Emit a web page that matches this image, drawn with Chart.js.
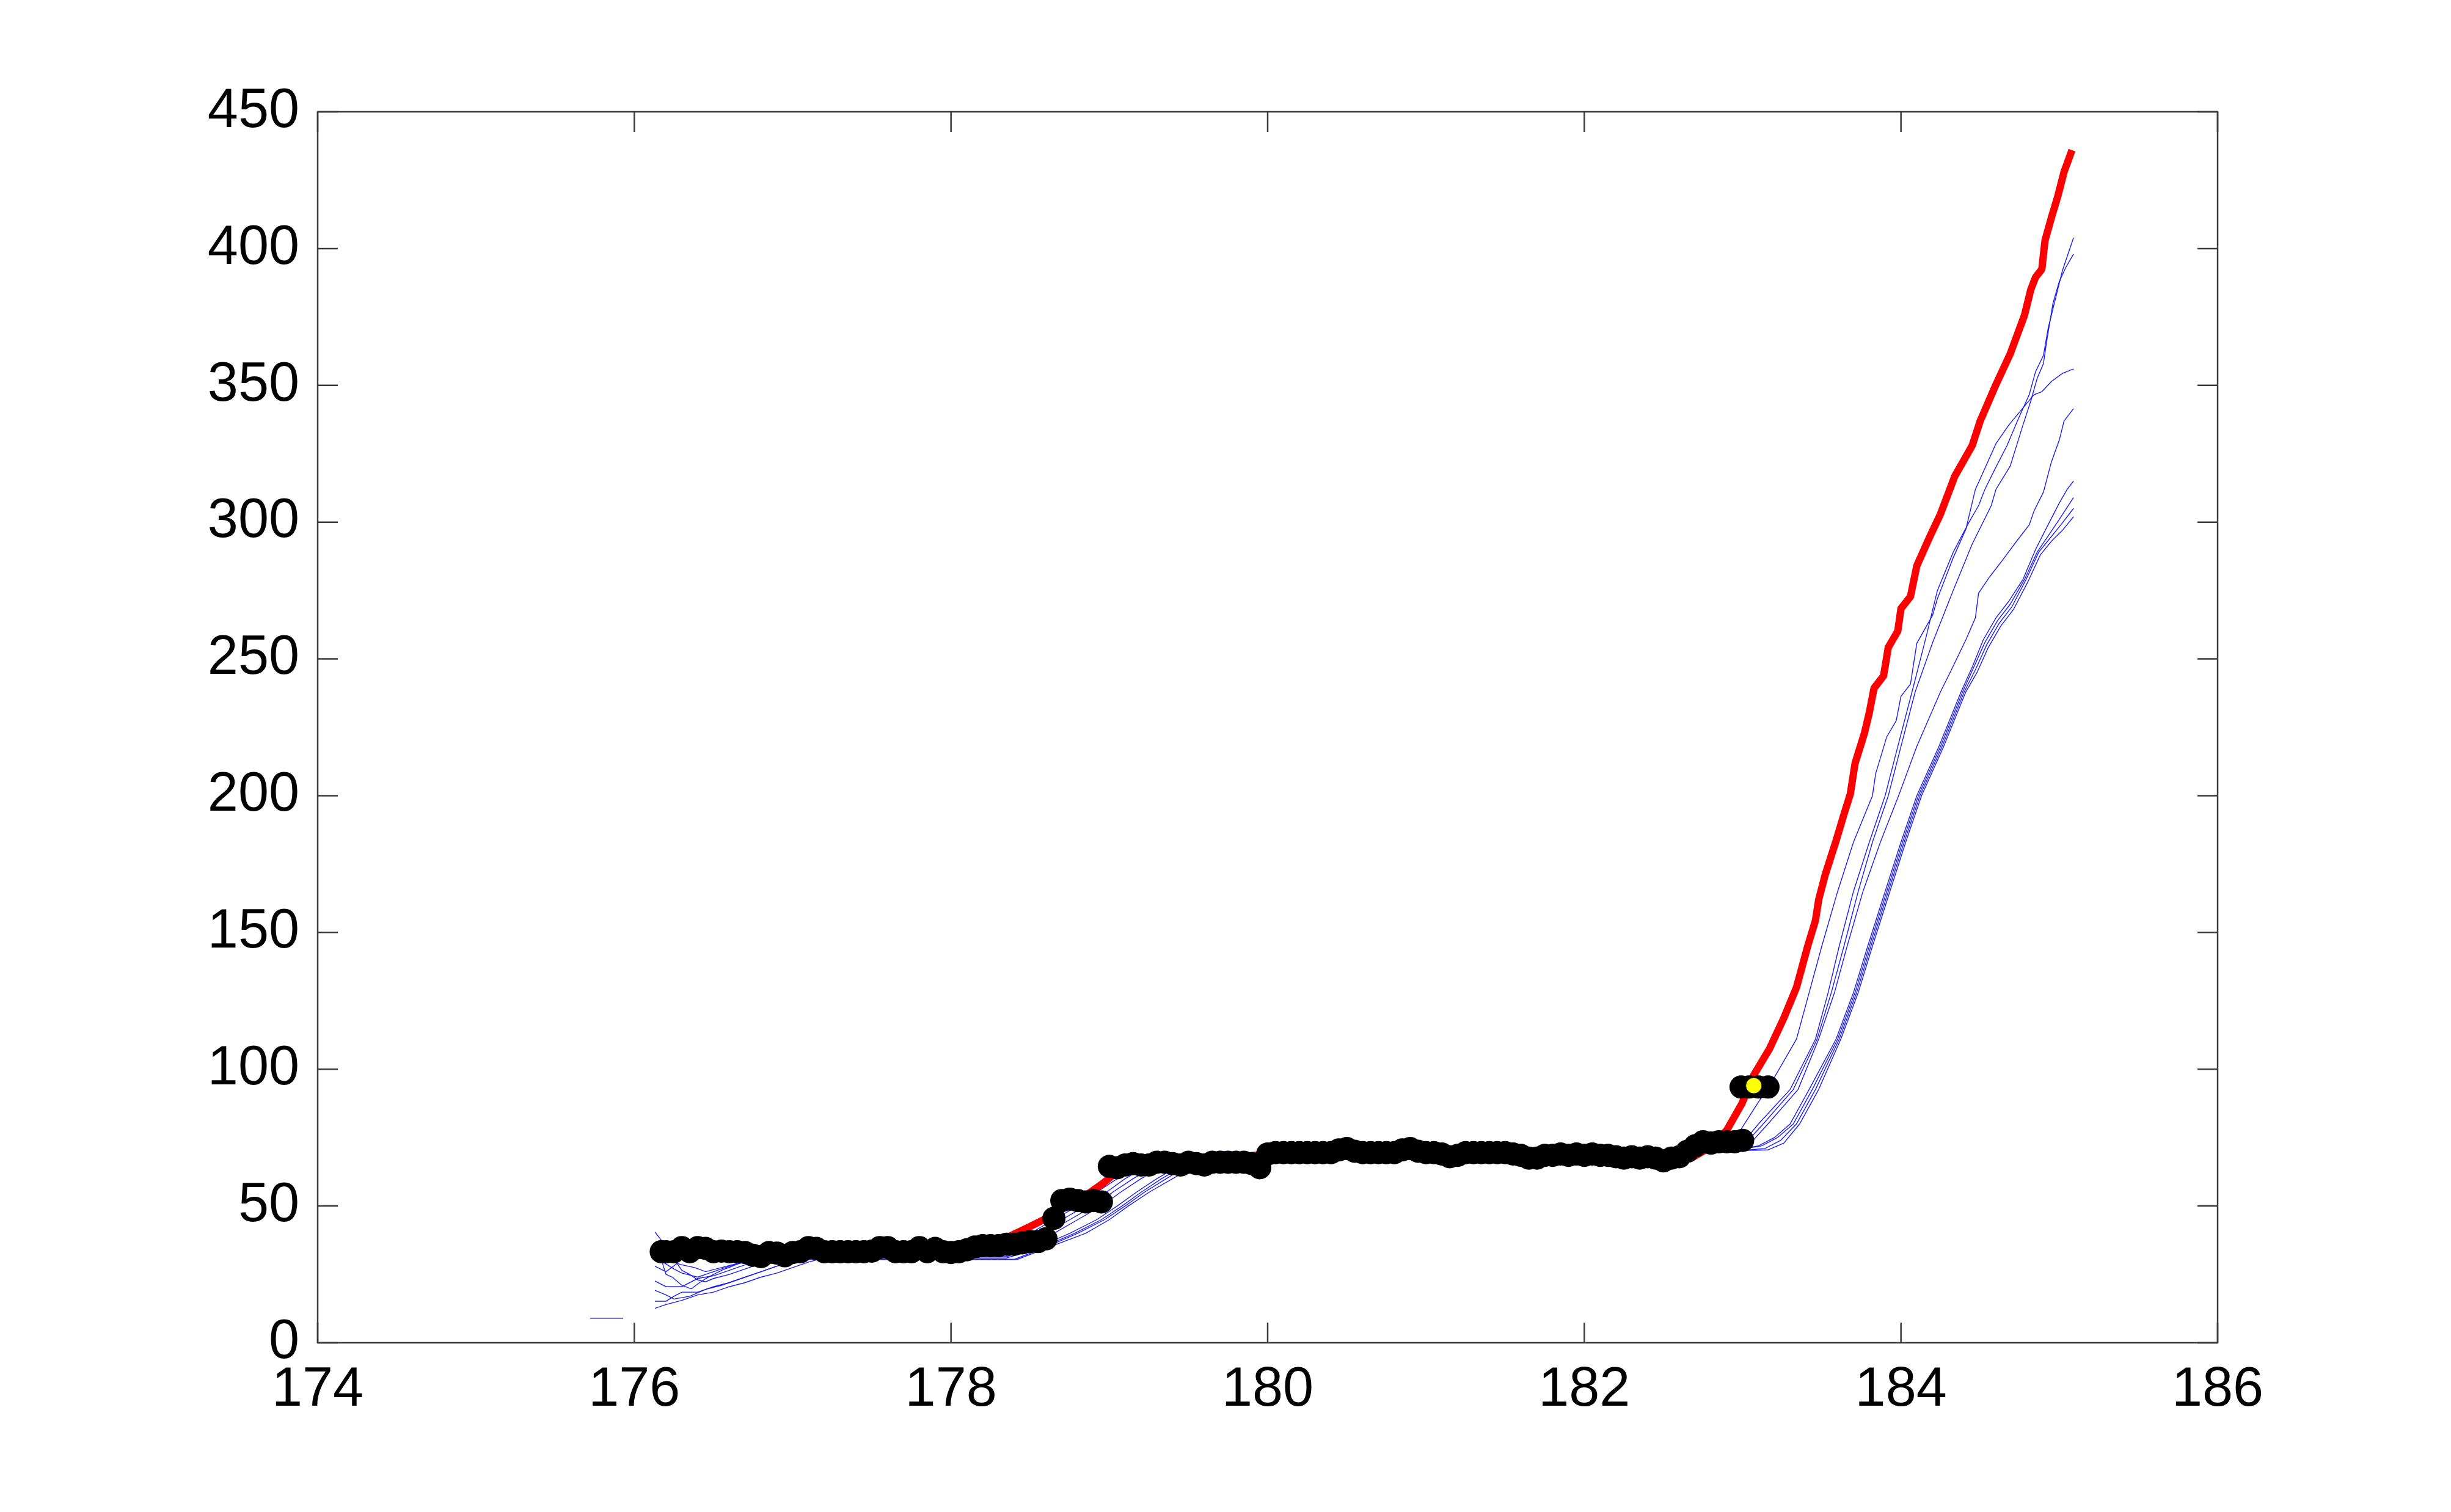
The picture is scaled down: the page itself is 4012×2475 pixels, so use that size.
<!DOCTYPE html>
<html>
<head>
<meta charset="utf-8">
<script src="https://cdn.jsdelivr.net/npm/chart.js@4/dist/chart.umd.min.js"></script>
<style>
  html, body { margin: 0; padding: 0; background: #ffffff; }
  #wrap { width: 4012px; height: 2475px; }
  canvas { display: block; }
</style>
</head>
<body>
<div id="wrap"><canvas id="c" width="4012" height="2475" style="width:4012px;height:2475px"></canvas></div>
<script>
// ---- axis ticks ----
const xTicks = [174, 176, 178, 180, 182, 184, 186];
const yTicks = [0, 50, 100, 150, 200, 250, 300, 350, 400, 450];

// ---- red (main) curve ----
const redX = [176.13,177.0,178.0,178.2,178.3,178.39,178.5,178.62,178.72,178.81,178.88,178.96,179.06,179.15,179.5,180.0,181.0,182.0,182.67,182.75,182.82,182.9,182.995,183.07,183.17,183.26,183.34,183.41,183.46,183.48,183.52,183.59,183.64,183.68,183.71,183.77,183.8,183.83,183.89,183.92,183.98,184.0,184.06,184.1,184.18,184.25,184.34,184.45,184.5,184.6,184.69,184.78,184.82,184.85,184.89,184.9,184.91,184.95,184.99,185.03,185.08];
const redY = [33.5,33.5,34,35.5,37,39.5,42.5,46,49.5,52.6,55,58.3,63,65,66,69,69.5,69,67.3,70,73,77.7,87.4,97.8,107.5,118.7,129.9,144.8,154.4,161.9,170.8,183.5,193.2,200.6,211.8,223,230.4,239.3,243.8,254.2,260.2,268.4,272.8,284,294.4,303,316.8,328,336.9,350.3,361.5,375.6,385,389.5,392.5,398,403,411.3,419,428,436];

// ---- blue ensemble curves ----
const blue1 = [[176.13,22.6],[176.2,20.5],[176.3,20.5],[176.4,23.5],[176.5,24.5],[176.6,26.5],[176.7,28.5],[176.8,30.5],[176.9,32],[177.0,33],[178.25,33],[178.4,36],[178.55,40],[178.7,45],[178.85,50],[178.98,55],[179.1,60],[179.25,65],[179.6,66],[180.05,69.5],[182.65,69.5],[182.85,71],[183.0,73],[183.1,80],[183.3,92.6],[183.46,111],[183.54,128],[183.61,145],[183.7,165],[183.8,183],[183.9,200],[183.98,218],[184.07,238],[184.15,256],[184.23,275],[184.33,289],[184.43,300],[184.49,306],[184.53,312],[184.59,319],[184.67,328],[184.74,337.6],[184.81,346.6],[184.85,355],[184.9,361],[184.93,371],[184.99,385],[185.02,392],[185.09,404]];
const blue2 = [[176.13,19.2],[176.2,17.5],[176.25,16],[176.35,17],[176.45,19.5],[176.55,21],[176.65,23],[176.75,25],[176.85,27],[176.95,29],[177.05,30.5],[177.2,32],[177.35,33],[178.3,33],[178.45,36],[178.6,40],[178.75,45],[178.9,50],[179.02,55],[179.15,60],[179.3,65],[179.6,66],[180.1,69.5],[182.7,69.5],[182.88,71],[183.02,73],[183.13,80],[183.32,92.6],[183.47,111],[183.56,128],[183.64,145],[183.73,165],[183.82,183],[183.92,200],[184.0,218],[184.09,238],[184.2,256],[184.33,275],[184.45,292],[184.57,306],[184.6,312],[184.69,320.5],[184.77,335.4],[184.82,344.3],[184.86,352.5],[184.9,358],[184.92,366],[184.96,380],[185.0,388],[185.04,393],[185.09,398]];
const blue3 = [[176.13,40.5],[176.17,37.5],[176.18,28.6],[176.2,25],[176.24,24],[176.3,21],[176.36,19.7],[176.4,21.5],[176.45,23.4],[176.5,25],[176.56,26.7],[176.61,27.8],[176.67,29.3],[176.8,31],[177.0,33],[178.2,33],[178.35,35],[178.5,40],[178.65,45],[178.8,50],[178.92,55],[179.05,60],[179.2,65],[179.5,66],[179.7,70],[179.9,69],[180.05,70],[181.1,70],[181.2,72],[181.3,70],[182.6,70],[182.8,71.5],[182.95,74],[183.0,79],[183.1,88],[183.18,95],[183.26,103],[183.34,111],[183.42,128],[183.5,145],[183.6,165],[183.7,183],[183.82,200],[183.84,208],[183.91,221.5],[183.97,227.4],[184.0,236.3],[184.06,240.8],[184.1,255.7],[184.2,266],[184.23,272],[184.28,279.5],[184.33,287],[184.41,297.4],[184.47,312],[184.49,314.5],[184.6,328.7],[184.68,335.4],[184.76,341],[184.84,346.6],[184.89,347.7],[184.95,351.4],[185.02,354.4],[185.09,356]];
const blue4 = [[176.13,15.2],[176.2,15.2],[176.25,17],[176.3,18.5],[176.4,18.5],[176.5,20.5],[176.6,22],[176.7,24],[176.8,26],[176.9,28],[177.0,30],[177.15,32],[177.3,32.5],[178.3,32],[178.5,35],[178.65,40],[178.8,45],[178.95,50],[179.07,55],[179.2,60],[179.35,65],[179.65,66],[180.1,69.5],[182.7,69.5],[182.9,71],[183.05,73],[183.16,80],[183.35,92.6],[183.48,111],[183.58,128],[183.66,145],[183.76,165],[183.87,183],[183.985,200],[184.1,218],[184.25,238],[184.31,245],[184.41,257],[184.47,265],[184.49,274],[184.56,280],[184.64,286],[184.73,293],[184.81,299],[184.84,304],[184.9,311],[184.95,322],[185.0,330],[185.03,337],[185.09,341.5]];
const blue5 = [[176.13,12.6],[176.2,14],[176.3,15.5],[176.4,17.5],[176.5,18.5],[176.6,20.5],[176.7,22],[176.8,24],[176.9,25.5],[177.0,27.5],[177.1,29.5],[177.2,31],[177.35,31.5],[178.35,31.5],[178.55,35],[178.75,40],[178.92,45],[179.05,50],[179.17,55],[179.3,60],[179.45,65],[179.7,66],[180.15,69.5],[182.75,69.5],[182.95,70.5],[183.1,72],[183.2,75],[183.3,80],[183.42,92.6],[183.59,111],[183.7,128],[183.79,145],[183.9,165],[184.0,183],[184.1,200],[184.24,218],[184.38,238],[184.45,247],[184.52,257],[184.6,265],[184.68,271],[184.77,279],[184.85,290],[184.92,298],[185.0,307],[185.05,312],[185.09,315]];
const blue6 = [[176.13,28],[176.2,26],[176.27,29],[176.3,26.5],[176.35,25],[176.4,23],[176.45,22.3],[176.5,23.5],[176.6,25],[176.7,27],[176.8,29],[176.9,30.5],[177.0,31],[178.35,31],[178.58,35],[178.78,40],[178.95,45],[179.08,50],[179.2,55],[179.33,60],[179.48,65],[179.7,66],[180.15,69.5],[182.75,69.5],[182.97,70.5],[183.12,72],[183.22,75],[183.32,80],[183.44,92.6],[183.6,111],[183.71,128],[183.8,145],[183.91,165],[184.01,183],[184.11,200],[184.25,218],[184.39,238],[184.46,247],[184.53,256],[184.61,264],[184.69,270],[184.78,279],[184.86,289],[184.93,295],[185.0,301],[185.09,309]];
const blue7 = [[176.13,31],[176.18,29.5],[176.25,27],[176.3,25.5],[176.4,24],[176.5,26],[176.6,28],[176.7,29.5],[176.85,30.5],[177.0,30.5],[178.4,30.5],[178.6,35],[178.8,40],[178.97,45],[179.1,50],[179.22,55],[179.36,60],[179.5,65],[179.75,66],[180.15,69.5],[182.75,69.5],[182.98,70.3],[183.14,71],[183.24,74],[183.34,80],[183.46,92.6],[183.61,111],[183.72,128],[183.81,145],[183.92,165],[184.02,183],[184.12,200],[184.26,218],[184.4,238],[184.47,246],[184.54,255],[184.62,263],[184.7,269],[184.79,279],[184.87,289],[184.94,294],[185.01,299],[185.09,305]];
const blue8 = [[176.13,33],[176.2,31],[176.27,29],[176.3,28.5],[176.38,27.5],[176.45,26],[176.55,27.5],[176.65,29],[176.75,30],[176.9,30.5],[178.42,30.5],[178.62,35],[178.85,40],[179.0,45],[179.12,50],[179.25,55],[179.4,60],[179.55,65],[179.8,66],[180.2,69.5],[182.8,69.5],[183.0,70.3],[183.16,70.5],[183.26,73],[183.36,80],[183.48,92.6],[183.62,111],[183.73,128],[183.82,145],[183.93,165],[184.03,183],[184.13,200],[184.27,218],[184.41,238],[184.48,245],[184.55,254],[184.63,262],[184.71,268],[184.8,278],[184.88,288],[184.95,293],[185.02,297],[185.09,302]];
const blueShort = [[175.72,9.0],[175.93,9.0]];

// ---- observed points (black) ----
const dotX = [176.17,176.20,176.25,176.30,176.35,176.40,176.45,176.50,176.55,176.60,176.65,176.70,176.75,176.80,176.85,176.90,176.95,177.00,177.05,177.10,177.15,177.20,177.25,177.30,177.35,177.40,177.45,177.50,177.55,177.60,177.65,177.70,177.75,177.80,177.85,177.90,177.95,178.00,178.05,178.10,178.15,178.20,178.25,178.30,178.35,178.40,178.45,178.50,178.55,178.60,178.65,178.70,178.75,178.80,178.85,178.90,178.95,179.00,179.05,179.10,179.15,179.20,179.25,179.30,179.35,179.40,179.45,179.50,179.55,179.60,179.65,179.70,179.75,179.80,179.85,179.90,179.95,180.00,180.05,180.10,180.15,180.20,180.25,180.30,180.35,180.40,180.45,180.50,180.55,180.60,180.65,180.70,180.75,180.80,180.85,180.90,180.95,181.00,181.05,181.10,181.15,181.20,181.25,181.30,181.35,181.40,181.45,181.50,181.55,181.60,181.65,181.70,181.75,181.80,181.85,181.90,181.95,182.00,182.05,182.10,182.15,182.20,182.25,182.30,182.35,182.40,182.45,182.50,182.55,182.60,182.65,182.70,182.75,182.80,182.85,182.90,182.95,183.00,182.99,183.04,183.10,183.16];
const dotY = [33.3,33.3,33.3,34.8,33.3,34.8,34.5,33.3,33.5,33.3,33.3,33.0,32.0,31.5,33.0,32.8,31.8,33.0,33.3,34.8,34.5,33.3,33.3,33.3,33.3,33.3,33.3,33.5,34.8,34.8,33.3,33.3,33.3,34.8,33.3,34.5,33.3,33.0,33.3,34.0,35.0,35.5,35.5,35.5,36.0,36.0,36.5,37.0,37.0,38.0,45.5,52.0,52.5,52.0,51.5,52.0,51.5,64.5,64.0,65.0,65.5,65.0,65.0,66.0,66.0,65.5,65.0,66.0,65.5,65.0,66.0,66.0,66.0,66.0,66.0,65.5,64.0,69.0,69.5,69.5,69.5,69.5,69.5,69.5,69.5,69.5,70.5,71.0,70.0,69.5,69.5,69.5,69.5,69.5,70.5,71.0,70.0,69.5,69.5,69.0,68.0,68.5,69.5,69.5,69.5,69.5,69.5,69.5,69.0,68.5,67.5,67.5,68.5,68.5,69.0,68.5,69.0,68.5,69.0,68.5,68.5,68.0,67.5,68.0,67.5,68.0,67.5,66.5,67.5,68.0,70.0,72.0,73.5,73.0,73.5,73.5,73.5,74.0,93.5,93.5,93.5,93.5];

// ---- highlighted point (yellow) ----
const markX = [183.07];
const markY = [94];

const toPts = (xs, ys) => xs.map((v, i) => ({x: v, y: ys[i]}));
const pairPts = arr => arr.map(p => ({x: p[0], y: p[1]}));

const FONT = '"Liberation Sans", Arial, Helvetica, sans-serif';

const blueStyle = {
  showLine: true, borderColor: 'rgb(25,25,245)', borderWidth: 1.4, pointRadius: 0,
  tension: 0, order: 4
};

const blueSets = [blue1, blue2, blue3, blue4, blue5, blue6, blue7, blue8, blueShort].map(arr =>
  Object.assign({ data: pairPts(arr) }, blueStyle));

const framePlugin = {
  id: 'frame',
  beforeDraw(chart) {
    const c = chart.ctx;
    c.save();
    c.fillStyle = '#ffffff';
    c.fillRect(0, 0, chart.width, chart.height);
    c.restore();
  },
  afterDatasetsDraw(chart) {
    const c = chart.ctx;
    const a = chart.chartArea;
    const xs = chart.scales.x, ys = chart.scales.y;
    c.save();
    c.strokeStyle = '#3a3a3a';
    c.lineWidth = 2.5;
    c.strokeRect(a.left, a.top, a.right - a.left, a.bottom - a.top);
    const L = 33;
    c.beginPath();
    xTicks.forEach(v => {
      const px = xs.getPixelForValue(v);
      c.moveTo(px, a.bottom); c.lineTo(px, a.bottom - L);
      c.moveTo(px, a.top); c.lineTo(px, a.top + L);
    });
    yTicks.forEach(v => {
      const py = ys.getPixelForValue(v);
      c.moveTo(a.left, py); c.lineTo(a.left + L, py);
      c.moveTo(a.right, py); c.lineTo(a.right - L, py);
    });
    c.stroke();
    c.restore();
  }
};

new Chart(document.getElementById('c'), {
  type: 'scatter',
  data: {
    datasets: [
      { data: toPts(markX, markY), pointRadius: 13, pointBackgroundColor: '#ffff00', pointBorderColor: '#222200', pointBorderWidth: 1, showLine: false, order: 0 },
      { data: toPts(dotX, dotY), pointRadius: 19, pointBackgroundColor: '#000000', pointBorderColor: '#000000', pointBorderWidth: 0, showLine: false, order: 1 },
      { data: toPts(redX, redY), showLine: true, borderColor: '#ff0000', borderWidth: 12, pointRadius: 0, tension: 0, borderCapStyle: 'butt', borderJoinStyle: 'round', order: 2 },
      ...blueSets
    ]
  },
  options: {
    responsive: false,
    animation: false,
    devicePixelRatio: 1,
    events: [],
    layout: { padding: { left: 0, top: 183, right: 382, bottom: 0 } },
    plugins: { legend: { display: false }, tooltip: { enabled: false }, title: { display: false } },
    scales: {
      x: {
        type: 'linear', min: 174, max: 186,
        afterBuildTicks: s => { s.ticks = xTicks.map(v => ({ value: v })); },
        afterFit: s => { s.height = 277; },
        grid: { display: false, drawTicks: false },
        border: { display: false },
        ticks: { color: '#000000', padding: 24, maxRotation: 0, font: { family: FONT, size: 90 } }
      },
      y: {
        type: 'linear', min: 0, max: 450,
        afterBuildTicks: s => { s.ticks = yTicks.map(v => ({ value: v })); },
        afterFit: s => { s.width = 520; },
        grid: { display: false, drawTicks: false },
        border: { display: false },
        ticks: { color: '#000000', padding: 30, font: { family: FONT, size: 90 } }
      }
    }
  },
  plugins: [framePlugin]
});
</script>
</body>
</html>
